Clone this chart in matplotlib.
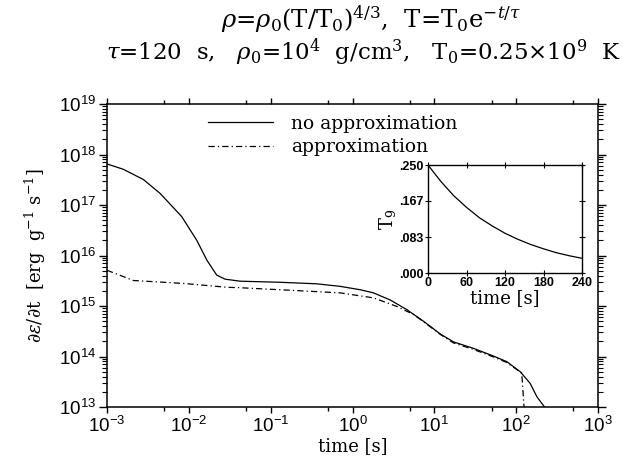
import math
import matplotlib
matplotlib.use("Agg")
import matplotlib.pyplot as plt
from matplotlib.ticker import LogLocator, FixedLocator, NullFormatter, FixedFormatter, FuncFormatter

# ---- data ----
t_full = [0.001, 0.00158, 0.00278, 0.00445, 0.00818, 0.0125, 0.0166, 0.0219, 0.0277,
          0.0423, 0.130, 0.366, 0.705, 1.24, 1.80, 2.88, 4.60, 7.36, 11.8, 17.1,
          30.1, 52.8, 76.9, 112, 148, 179, 222]
E_full = [6.5e17, 5.1e17, 3.2e17, 1.7e17, 5.9e16, 2.0e16, 8.1e15, 4.1e15, 3.4e15,
          3.1e15, 2.95e15, 2.75e15, 2.45e15, 2.1e15, 1.82e15, 1.32e15, 8.5e14, 5.0e14,
          2.8e14, 1.95e14, 1.45e14, 1.02e14, 7.9e13, 5.0e13, 2.95e13, 1.6e13, 1.0e13]

t_appr = [0.001, 0.0021, 0.00857, 0.029, 0.0423, 0.173, 0.705, 1.80, 3.48, 5.57,
          7.36, 11.8, 17.1, 30.1, 52.8, 76.9, 117, 126]
E_appr = [5.1e15, 3.2e15, 2.8e15, 2.35e15, 2.3e15, 2.05e15, 1.82e15, 1.45e15, 9.8e14,
          6.8e14, 4.9e14, 2.75e14, 1.86e14, 1.38e14, 9.8e13, 7.6e13, 4.7e13, 8e12]

t_inset = [0, 20, 40, 60, 80, 100, 120, 140, 160, 180, 200, 220, 240]
T9_inset = [0.250, 0.212, 0.179, 0.152, 0.128, 0.109, 0.092, 0.078, 0.066, 0.056,
            0.047, 0.040, 0.034]

inset_xticks = [0, 60, 120, 180, 240]
inset_yticks = [0.0, 0.0833, 0.1667, 0.25]
inset_ylabels = ['.000', '.083', '.167', '.250']

legend_labels = ['no approximation', 'approximation']

# ---- style ----
plt.rcParams['mathtext.fontset'] = 'custom'
plt.rcParams['mathtext.rm'] = 'DejaVu Serif'
plt.rcParams['mathtext.it'] = 'DejaVu Serif:italic'
plt.rcParams['mathtext.bf'] = 'DejaVu Serif:bold'
plt.rcParams['mathtext.sf'] = 'Liberation Sans'
plt.rcParams['font.family'] = ['DejaVu Serif']
serif = ['DejaVu Serif']
sans = ['Liberation Sans']

fig = plt.figure(figsize=(6.23, 4.57), dpi=100)
ax = fig.add_axes([107/623, 1-407/457, 491/623, 303/457])

l1, = ax.plot(t_full, E_full, color='black', lw=0.9, ls='-')
l2, = ax.plot(t_appr, E_appr, color='black', lw=0.9, ls=(0, (5, 2.5, 1, 2.5)))
ax.set_xscale('log')
ax.set_yscale('log')
ax.set_xlim(1e-3, 1e3)
ax.set_ylim(1e13, 1e19)

pow_fmt = FuncFormatter(lambda v, p: r'$\mathsf{10^{%d}}$' % round(math.log10(v)))
ax.xaxis.set_major_locator(LogLocator(base=10, numticks=20))
ax.xaxis.set_minor_locator(LogLocator(base=10, subs=[5.0], numticks=20))
ax.xaxis.set_major_formatter(pow_fmt)
ax.xaxis.set_minor_formatter(NullFormatter())
ax.yaxis.set_major_locator(LogLocator(base=10, numticks=20))
ax.yaxis.set_minor_locator(LogLocator(base=10, subs=[2, 3, 4, 5, 6, 7, 8, 9], numticks=20))
ax.yaxis.set_major_formatter(pow_fmt)
ax.yaxis.set_minor_formatter(NullFormatter())
ax.xaxis.offsetText.set_visible(False)
ax.yaxis.offsetText.set_visible(False)

for s in ax.spines.values():
    s.set_linewidth(1.1)
ax.tick_params(axis='x', which='major', direction='out', length=4.5, width=1.0,
               top=True, bottom=True, labelsize=13.5, pad=2)
ax.tick_params(axis='x', which='minor', direction='out', length=2.8, width=1.0,
               top=True, bottom=True)
ax.tick_params(axis='y', which='major', direction='out', length=6, width=1.0,
               left=True, right=True, labelsize=13.5, pad=2)
ax.tick_params(axis='y', which='minor', direction='out', length=3.6, width=0.8,
               left=True, right=True)

ax.set_xlabel('time [s]', family=serif, fontsize=13, labelpad=1)
ax.set_ylabel(r'$\partial\epsilon/\partial$t  [erg  g$^{-1}$ s$^{-1}$]', family=serif,
              fontsize=13, labelpad=8)

leg = ax.legend([l1, l2], legend_labels, loc='upper left', bbox_to_anchor=(0.205, 0.965),
                frameon=False, prop={'family': serif, 'size': 13.5}, handlelength=3.5,
                handletextpad=0.95, borderpad=0, borderaxespad=0, labelspacing=0.3)

fig.text(0.595, 0.958, r'$\rho$=$\rho_0$(T/T$_0$)$^{4/3}$,  T=T$_0$e$^{-t/\tau}$',
         ha='center', va='center', family=serif, fontsize=17.5)
fig.text(0.583, 0.885, r'$\tau$=120  s,   $\rho_0$=10$^4$  g/cm$^3$,   T$_0$=0.25$\times$10$^9$  K',
         ha='center', va='center', family=serif, fontsize=16.5)

# ---- inset ----
ins = fig.add_axes([428/623, 1-273/457, 154/623, 108/457])
ins.plot(t_inset, T9_inset, color='black', lw=0.9)
ins.set_xlim(0, 240)
ins.set_ylim(0, 0.25)
ins.xaxis.set_major_locator(FixedLocator(inset_xticks))
ins.yaxis.set_major_locator(FixedLocator(inset_yticks))
ins.yaxis.set_major_formatter(FixedFormatter(inset_ylabels))
for s in ins.spines.values():
    s.set_linewidth(1.0)
ins.tick_params(direction='inout', length=4, width=0.8, top=True, right=True,
                labelsize=9, pad=1)
for lab in ins.get_xticklabels() + ins.get_yticklabels():
    lab.set_family(sans)
    lab.set_fontweight('bold')
ins.set_xlabel('time [s]', family=serif, fontsize=13, labelpad=0)
ins.set_ylabel(r'T$_9$', family=serif, fontsize=13, labelpad=1)

fig.savefig('out.png', dpi=100)
